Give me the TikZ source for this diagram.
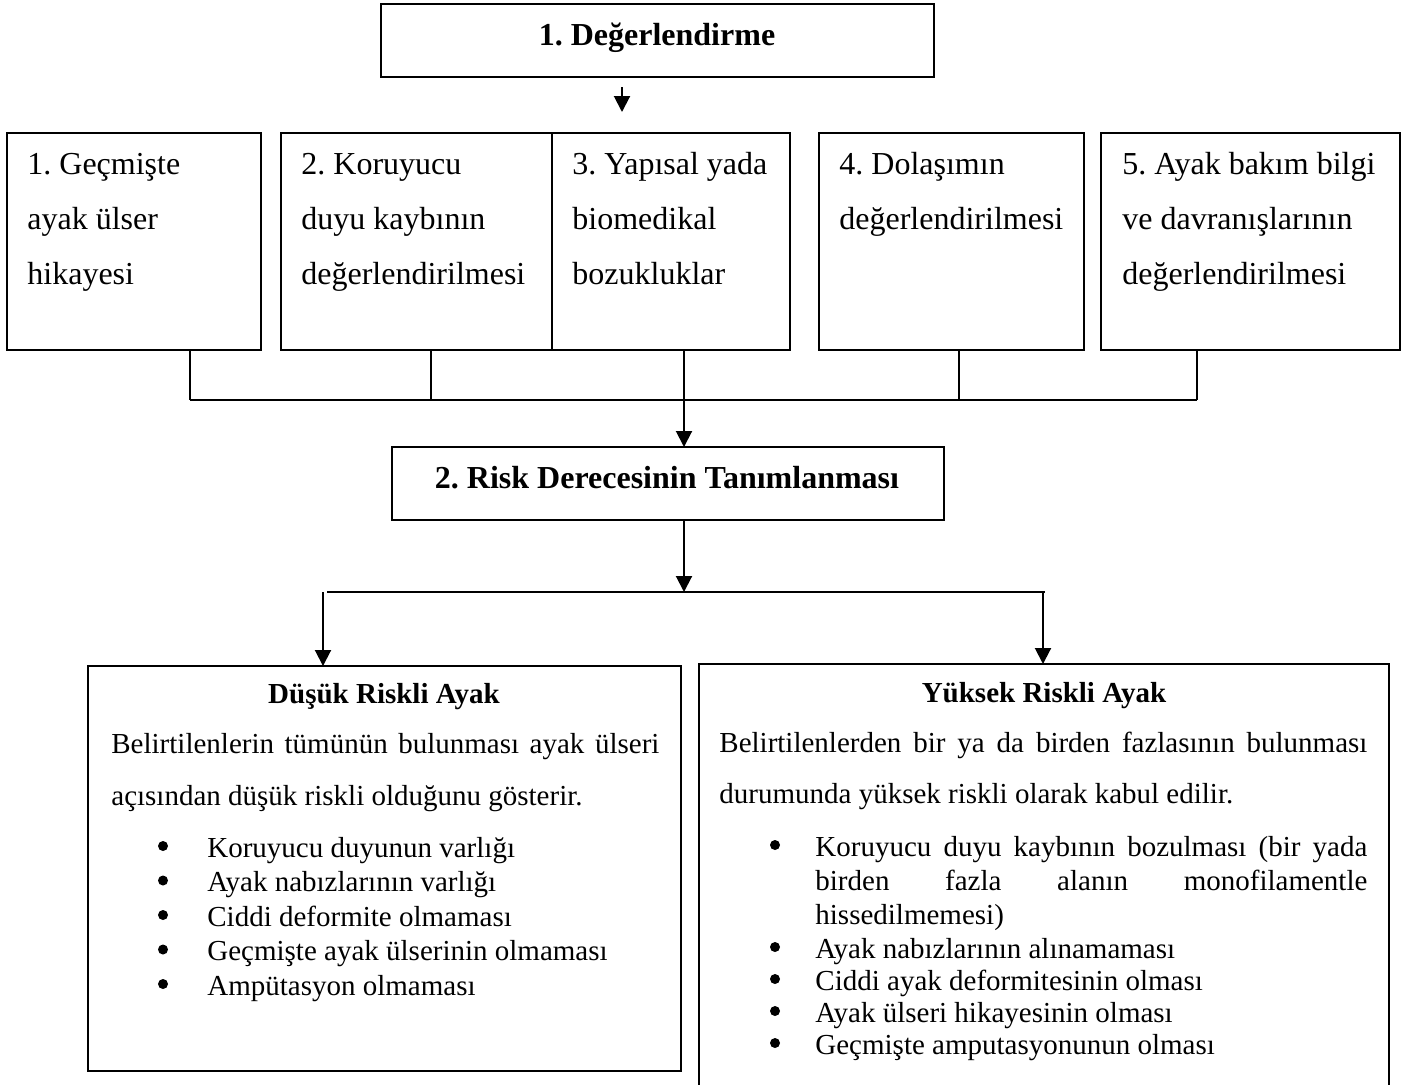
\documentclass[tikz,border=0pt]{standalone}
\usepackage{fontspec}
\setmainfont{Liberation Serif}
\usetikzlibrary{arrows.meta}
\frenchspacing
\begin{document}
\begin{tikzpicture}[x=0.5pt,y=-0.5pt,
  box/.style={draw, line width=1pt, inner sep=0pt, outer sep=0pt, anchor=north west},
  bigb/.style={font=\fontsize{16}{19}\selectfont\bfseries, inner sep=0pt, anchor=base},
  row/.style={font=\fontsize{16}{19}\selectfont, inner sep=0pt, anchor=base west},
  body/.style={font=\fontsize{14.5}{17}\selectfont, inner sep=0pt, anchor=base west},
  bodyb/.style={font=\fontsize{14.5}{17}\selectfont\bfseries, inner sep=0pt, anchor=base},
  dot/.style={circle, fill=black, draw=none, inner sep=0pt, minimum size=5pt},
  conn/.style={line width=1pt},
  arr/.style={line width=1pt, -{Triangle[length=8pt,width=8pt]}},
]
\useasboundingbox (0,0) rectangle (1408,1084);
\clip (0,0) rectangle (1408,1084);

% ---- top box
\node[box, minimum width=276.5pt, minimum height=36.5pt] (top) at (381,4) {};
\node[bigb] (toptxt) at (657,45) {1. Değerlendirme};

\coordinate (a0) at (622,87);
\coordinate (a1) at (622,112);
\draw[arr] (a0) -- (a1);

% ---- row of boxes
\node[box, minimum width=127pt,   minimum height=108.5pt] (b1) at (7,133) {};
\node[box, minimum width=135.5pt, minimum height=108.5pt] (b2) at (281,133) {};
\node[box, minimum width=119pt,   minimum height=108.5pt] (b3) at (552,133) {};
\node[box, minimum width=132.5pt, minimum height=108.5pt] (b4) at (819,133) {};
\node[box, minimum width=149.5pt, minimum height=108.5pt] (b5) at (1101,133) {};

\node[row] (t1a) at (27,174) {1. Geçmişte};
\node[row] (t1b) at (27,229) {ayak ülser};
\node[row] (t1c) at (27,284) {hikayesi};

\node[row] (t2a) at (301,174) {2. Koruyucu};
\node[row] (t2b) at (301,229) {duyu kaybının};
\node[row] (t2c) at (301,284) {değerlendirilmesi};

\node[row] (t3a) at (572,174) {3. Yapısal yada};
\node[row] (t3b) at (572,229) {biomedikal};
\node[row] (t3c) at (572,284) {bozukluklar};

\node[row] (t4a) at (839,174) {4. Dolaşımın};
\node[row] (t4b) at (839,229) {değerlendirilmesi};

\node[row] (t5a) at (1122,174) {5. Ayak bakım bilgi};
\node[row] (t5b) at (1122,229) {ve davranışlarının};
\node[row] (t5c) at (1122,284) {değerlendirilmesi};

% ---- joining lines
\coordinate (j1) at (190,400);
\coordinate (j2) at (431,400);
\coordinate (j3) at (684,400);
\coordinate (j4) at (959,400);
\coordinate (j5) at (1197,400);
\draw[conn] (j1 |- b1.south) -- (j1);
\draw[conn] (j2 |- b2.south) -- (j2);
\draw[conn] (j4 |- b4.south) -- (j4);
\draw[conn] (j5 |- b5.south) -- (j5);
\draw[conn] (j1) -- (j5);

% ---- risk box
\node[box, minimum width=276pt, minimum height=36.5pt] (risk) at (392,447) {};
\node[bigb] (risktxt) at (667,488) {2. Risk Derecesinin Tanımlanması};
\draw[arr] (j3 |- b3.south) -- (j3 |- risk.north);

\coordinate (sp) at (684,592);
\coordinate (sl) at (323,592);
\coordinate (sr) at (1043,592);
\draw[arr] (sp |- risk.south) -- (sp);
\draw[conn] ([xshift=2pt]sl) -- ([xshift=1pt]sr);

% ---- result boxes
\node[box, minimum width=296.5pt, minimum height=202.5pt] (low) at (88,666) {};
\node[box, minimum width=345pt, minimum height=225pt] (high) at (699,664) {};
\draw[arr] (sl) -- (sl |- low.north);
\draw[arr] (sr) -- (sr |- high.north);

% ---- low risk content
\node[bodyb] (lowt) at (384,703) {Düşük Riskli Ayak};
\node[body] (low1) at (111,753) {\makebox[274pt][s]{Belirtilenlerin tümünün bulunması ayak ülseri}};
\node[body] (low2) at (111,805) {açısından düşük riskli olduğunu gösterir.};

\node[dot] (lb1) at (163,846) {};
\node[dot] (lb2) at (163,880.5) {};
\node[dot] (lb3) at (163,915) {};
\node[dot] (lb4) at (163,949.5) {};
\node[dot] (lb5) at (163,984) {};
\node[body] (li1) at (207,857) {Koruyucu duyunun varlığı};
\node[body] (li2) at (207,891.5) {Ayak nabızlarının varlığı};
\node[body] (li3) at (207,926) {Ciddi deformite olmaması};
\node[body] (li4) at (207,960.5) {Geçmişte ayak ülserinin olmaması};
\node[body] (li5) at (207,995) {Ampütasyon olmaması};

% ---- high risk content
\node[bodyb] (hight) at (1044,702) {Yüksek Riskli Ayak};
\node[body] (high1) at (719,752) {\makebox[324pt][s]{Belirtilenlerden bir ya da birden fazlasının bulunması}};
\node[body] (high2) at (719,803) {durumunda yüksek riskli olarak kabul edilir.};

\node[dot] (hb1) at (775,845) {};
\node[dot] (hb2) at (775,947) {};
\node[dot] (hb3) at (775,979) {};
\node[dot] (hb4) at (775,1011) {};
\node[dot] (hb5) at (775,1043) {};
\node[body] (hi1a) at (815,856) {\makebox[276pt][s]{Koruyucu duyu kaybının bozulması (bir yada}};
\node[body] (hi1b) at (815,890) {\makebox[276pt][s]{birden fazla alanın monofilamentle}};
\node[body] (hi1c) at (815,924) {hissedilmemesi)};
\node[body] (hi2) at (815,958) {Ayak nabızlarının alınamaması};
\node[body] (hi3) at (815,990) {Ciddi ayak deformitesinin olması};
\node[body] (hi4) at (815,1022) {Ayak ülseri hikayesinin olması};
\node[body] (hi5) at (815,1054) {Geçmişte amputasyonunun olması};
\end{tikzpicture}
\end{document}
